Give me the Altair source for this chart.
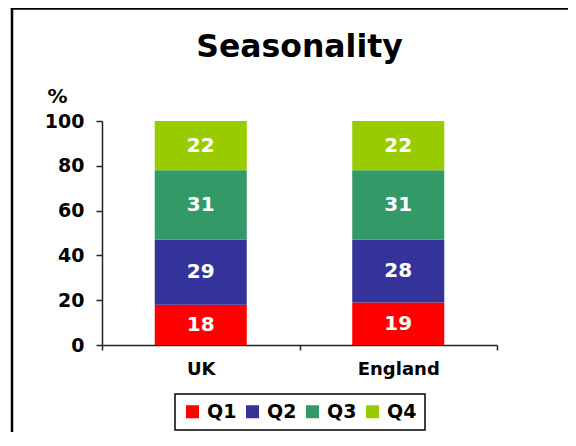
import altair as alt
import pandas as pd

countries = ["UK", "England"]
quarters = ["Q1", "Q2", "Q3", "Q4"]
uk_values = [18, 29, 31, 22]
england_values = [19, 28, 31, 22]
colors = ["#FF0000", "#333399", "#339966", "#99CC00"]
y_ticks = [0, 20, 40, 60, 80, 100]

rows = []
for c, vals in zip(countries, [uk_values, england_values]):
    for i, (q, v) in enumerate(zip(quarters, vals)):
        rows.append({"country": c, "quarter": q, "qi": i, "value": v})
df = pd.DataFrame(rows)

FONT = "DejaVu Sans"

x_scale = alt.Scale(paddingInner=0, paddingOuter=0)
x_enc = alt.X(
    "country:N",
    sort=countries,
    scale=x_scale,
    axis=alt.Axis(
        title=None, labelAngle=0, labelFontSize=18, labelFontWeight="bold",
        labelColor="black", labelFont=FONT, labelPadding=10,
        tickBand="extent", tickSize=5, tickColor="#222", tickWidth=1.5,
        domainColor="#222", domainWidth=1.5,
    ),
)
y_scale = alt.Scale(domain=[0, 100], nice=False)

bars = alt.Chart(df).mark_bar(width=alt.RelativeBandSize(0.466)).encode(
    x=x_enc,
    y=alt.Y(
        "value:Q",
        stack="zero",
        scale=y_scale,
        axis=alt.Axis(
            values=y_ticks, grid=False, title="%", titleAngle=0,
            titleX=-45, titleY=-19, titleAlign="center", titleBaseline="alphabetic",
            titleFontSize=20, titleFontWeight="bold", titleFont=FONT, titleColor="black",
            labelFontSize=19, labelFontWeight="bold", labelFont=FONT, labelColor="black",
            labelPadding=12, tickSize=6, tickColor="#222", tickWidth=1.5,
            domainColor="#222", domainWidth=1.5,
        ),
    ),
    color=alt.Color(
        "quarter:N",
        sort=quarters,
        scale=alt.Scale(domain=quarters, range=colors),
        legend=alt.Legend(
            title=None, orient="none", legendX=73, legendY=273, direction="horizontal",
            strokeColor="black", padding=8, symbolType="square",
            symbolSize=169, symbolStrokeWidth=0, labelFontSize=19,
            labelFontWeight="bold", labelFont=FONT, labelColor="black",
            labelOffset=5, columnPadding=6,
        ),
    ),
    order=alt.Order("qi:Q", sort="ascending"),
)

labels = alt.Chart(df).transform_window(
    cum="sum(value)", groupby=["country"], sort=[alt.SortField("qi")], frame=[None, 0]
).transform_calculate(
    mid="datum.cum - datum.value / 2"
).mark_text(
    color="white", fontSize=20, fontWeight="bold", font=FONT, baseline="middle"
).encode(
    x=alt.X("country:N", sort=countries, scale=x_scale),
    y=alt.Y("mid:Q", scale=y_scale),
    text="value:Q",
)

frame_src = alt.Data(values=[{}])
top_edge = alt.Chart(frame_src).mark_rule(color="black", strokeWidth=2.5).encode(
    x=alt.value(-91.25), x2=alt.value(466), y=alt.value(-112.5)
)
left_edge = alt.Chart(frame_src).mark_rule(color="black", strokeWidth=2.5).encode(
    x=alt.value(-90), y=alt.value(-113.75), y2=alt.value(320)
)

chart = alt.layer(bars, labels, top_edge, left_edge).properties(
    width=395,
    height=224,
    autosize=alt.AutoSizeParams(type="none"),
    padding={"left": 94, "top": 113, "right": 71, "bottom": 87},
    title=alt.TitleParams(
        "Seasonality", fontSize=31.5, fontWeight="bold", font=FONT, color="black",
        anchor="middle", baseline="alphabetic", offset=-82,
    ),
).configure_view(stroke=None).configure_legend(strokeWidth=1.5)

chart.save("out.html", embed_options={"renderer": "svg", "actions": False})
